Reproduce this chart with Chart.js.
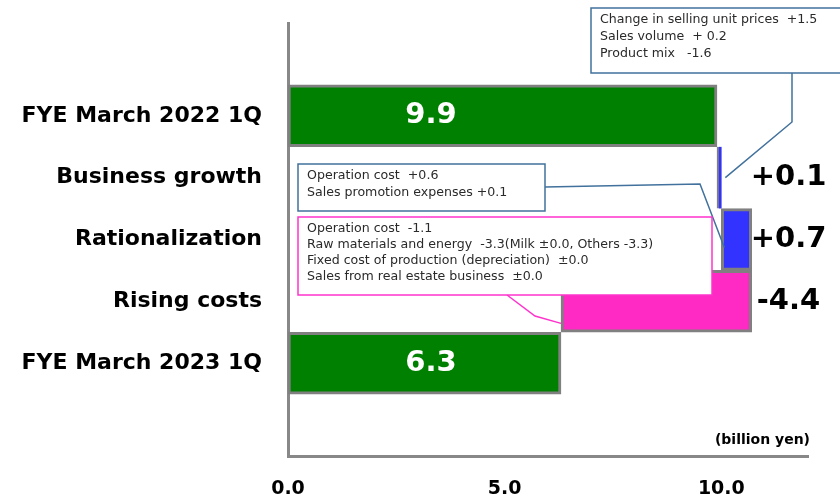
<!DOCTYPE html>
<html>
<head>
<meta charset="utf-8">
<script src="https://cdn.jsdelivr.net/npm/chart.js@4/dist/chart.umd.min.js"></script>
<style>
  html, body { margin: 0; padding: 0; background: #fff; }
  #wrap { width: 840px; height: 500px; position: relative; }
</style>
</head>
<body>
<div id="wrap"><canvas id="chart"></canvas></div>
<script>
// rows: empty row top and bottom keep the spacing of the original
const categories = ["", "FYE March 2022 1Q", "Business growth", "Rationalization", "Rising costs", "FYE March 2023 1Q", ""];
const barStart = [null, 0, 9.9, 10.0, 6.3, 0, null];
const barEnd = [null, 9.9, 10.0, 10.7, 10.7, 6.3, null];
const barLabels = ["", "9.9", "+0.1", "+0.7", "-4.4", "6.3", ""];
const barKinds = ["", "total", "up", "up", "down", "total", ""];
const xTicks = [0, 5, 10];

const colors = { total: "#008000", up: "#3333ff", down: "#ff2ac3" };
const FONT = "'DejaVu Sans', Verdana, sans-serif";

const callouts = [
  {
    box: [591, 8, 260, 65], color: "#41719c", lineH: 17,
    lines: ["Change in selling unit prices  +1.5", "Sales volume  + 0.2", "Product mix   -1.6"],
    path: (x, y) => [[792, 73], [792, 122], [x(10.0) + 4, y(2)]],
  },
  {
    box: [298, 164, 247, 47], color: "#41719c", lineH: 17,
    lines: ["Operation cost  +0.6", "Sales promotion expenses +0.1"],
    path: (x, y) => [[545, 187], [700, 184], [x(10.0) + 3, y(3) + 8]],
  },
  {
    box: [298, 217, 414, 78], color: "#ff33cc", lineH: 16,
    lines: [
      "Operation cost  -1.1",
      "Raw materials and energy  -3.3(Milk \u00b10.0, Others -3.3)",
      "Fixed cost of production (depreciation)  \u00b10.0",
      "Sales from real estate business  \u00b10.0",
    ],
    path: (x, y) => [[507, 295], [535, 316], [x(6.3), y(4) + 22]],
  },
];

const extras = {
  id: "extras",
  afterDatasetsDraw(chart) {
    const ctx = chart.ctx;
    const xs = chart.scales.x;
    const ys = chart.scales.y;
    const x = (v) => xs.getPixelForValue(v);
    const y = (i) => ys.getPixelForValue(i);

    // value labels
    ctx.save();
    ctx.textBaseline = "middle";
    ctx.textAlign = "center";
    barLabels.forEach((t, i) => {
      if (!t) return;
      ctx.font = "bold 29px " + FONT;
      if (barKinds[i] === "total") {
        ctx.fillStyle = "#fff";
        ctx.fillText(t, x(3.3), y(i));
      } else {
        ctx.fillStyle = "#000";
        ctx.fillText(t, x(11.55), y(i));
      }
    });

    // unit
    ctx.font = "bold 14px " + FONT;
    ctx.textAlign = "right";
    ctx.fillStyle = "#000";
    ctx.fillText("(billion yen)", chart.chartArea.right + 2, chart.chartArea.bottom - 16);

    // callouts
    callouts.forEach((c) => {
      const [bx, by, bw, bh] = c.box;
      ctx.strokeStyle = c.color;
      ctx.lineWidth = 1.5;
      const pts = c.path(x, y);
      ctx.beginPath();
      ctx.moveTo(pts[0][0], pts[0][1]);
      pts.slice(1).forEach((p) => ctx.lineTo(p[0], p[1]));
      ctx.stroke();
      ctx.fillStyle = "#fff";
      ctx.fillRect(bx, by, bw, bh);
      ctx.strokeRect(bx, by, bw, bh);
      ctx.fillStyle = "#2a2a2a";
      ctx.font = "12.6px " + FONT;
      ctx.textAlign = "left";
      c.lines.forEach((l, k) => ctx.fillText(l, bx + 9, by + 12 + k * c.lineH));
    });
    ctx.restore();
  },
};

new Chart(document.getElementById("chart"), {
  type: "bar",
  data: {
    labels: categories,
    datasets: [
      {
        data: barStart.map((s, i) => (s === null ? null : [s, barEnd[i]])),
        backgroundColor: barKinds.map((k) => colors[k] || "transparent"),
        borderColor: "#808080",
        borderWidth: categories.map((c) => (c === "Business growth" ? { left: 3, right: 0, top: 0, bottom: 0 } : 3)),
        borderSkipped: false,
        categoryPercentage: 1,
        barPercentage: 1,
      },
    ],
  },
  options: {
    indexAxis: "y",
    responsive: true,
    maintainAspectRatio: false,
    animation: false,
    devicePixelRatio: 1,
    layout: { padding: { top: 23, right: 32, left: 0, bottom: 0 } },
    plugins: { legend: { display: false }, tooltip: { enabled: false } },
    scales: {
      x: {
        min: 0,
        max: 12,
        afterBuildTicks: (s) => { s.ticks = xTicks.map((v) => ({ value: v })); },
        grid: { display: false, drawTicks: false },
        border: { display: true, color: "#888", width: 3 },
        ticks: {
          color: "#000",
          padding: 22,
          font: { family: FONT, size: 19, weight: "bold" },
          callback: (v) => Number(v).toFixed(1),
        },
        afterFit: (s) => { s.height = 44; },
      },
      y: {
        grid: { display: false, drawTicks: false },
        border: { display: true, color: "#888", width: 3 },
        ticks: {
          color: "#000",
          padding: 26,
          font: { family: FONT, size: 22, weight: "bold" },
        },
        afterFit: (s) => {
          s.width = 288;
          s.paddingTop = 0;
          s.paddingBottom = 0;
        },
      },
    },
  },
  plugins: [extras],
});
</script>
</body>
</html>
